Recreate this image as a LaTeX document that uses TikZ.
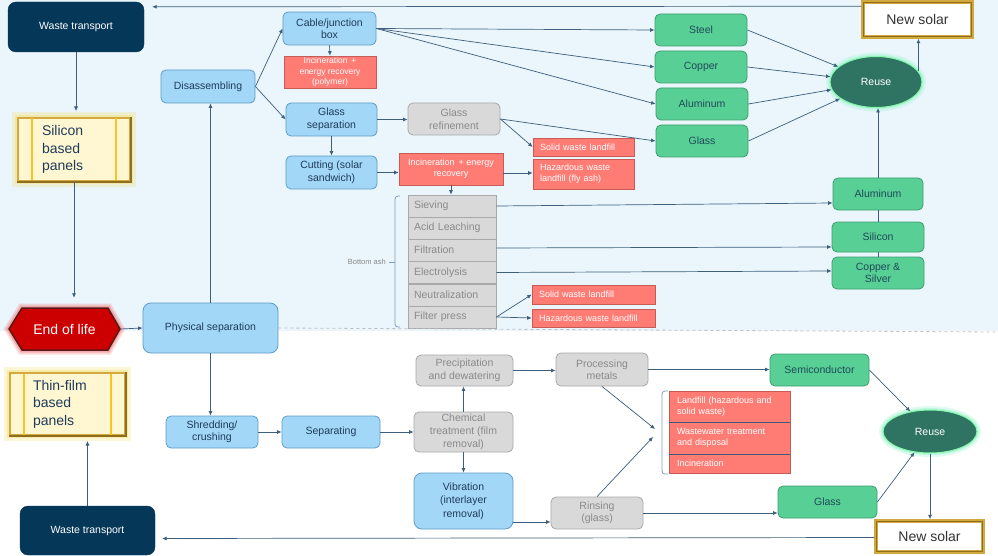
\documentclass[tikz,border=0pt]{standalone}
\usepackage{fontspec}
\setmainfont{Liberation Sans}
\usetikzlibrary{arrows.meta,shapes.geometric,calc}

\definecolor{bgblue}{HTML}{EAF5FC}
\definecolor{navy}{HTML}{053759}
\definecolor{lblue}{HTML}{A3D7F7}
\definecolor{lblueb}{HTML}{5E9DC6}
\definecolor{txtnavy}{HTML}{1F3B5C}
\definecolor{gfill}{HTML}{D9D9D9}
\definecolor{gbord}{HTML}{A9A9A9}
\definecolor{gtext}{HTML}{8A8A8A}
\definecolor{rfill}{HTML}{FF7C75}
\definecolor{rbord}{HTML}{C75B55}
\definecolor{grfill}{HTML}{58CF94}
\definecolor{grbord}{HTML}{3E9E70}
\definecolor{grtext}{HTML}{1F4A5A}
\definecolor{reusef}{HTML}{2F7363}
\definecolor{reuseg}{HTML}{A6F5D5}
\definecolor{conn}{HTML}{3D5E7C}
\definecolor{gold}{HTML}{D1A93F}
\definecolor{golddark}{HTML}{8F6E1F}
\definecolor{pfill}{HTML}{FFF7D1}
\definecolor{pline}{HTML}{F7C523}
\definecolor{pglow}{HTML}{F2E27A}
\definecolor{eolred}{HTML}{CC0000}
\definecolor{eolborder}{HTML}{5A1818}
\definecolor{eolglow}{HTML}{F08080}
\definecolor{brk}{HTML}{7F9FBF}
\definecolor{sepline}{HTML}{3F5A78}

\tikzset{
  sz/.style 2 args={minimum width=#1, minimum height=#2},
  base/.style={inner sep=1pt, align=center, font=\fontsize{10.5}{12.5}\selectfont},
  navybox/.style={base, rounded corners=8pt, fill=navy, draw=navy, text=white},
  bluebox/.style={base, rounded corners=5pt, fill=lblue, draw=lblueb, line width=0.8pt, text=txtnavy},
  graybox/.style={base, rounded corners=5pt, fill=gfill, draw=gbord, line width=0.8pt, text=gtext},
  ashbox/.style={base, fill=gfill, draw=gbord, line width=0.8pt, text=gtext, align=left,
     text width=76pt, inner xsep=6pt, minimum width=88pt, minimum height=22pt},
  redbox/.style={inner sep=1pt, align=center, fill=rfill, draw=rbord, line width=0.6pt, text=white,
     font=\fontsize{9}{11}\selectfont},
  redl/.style={redbox, align=left, inner xsep=7pt, text width=#1},
  greenbox/.style={base, rounded corners=5pt, fill=grfill, draw=grbord, line width=0.8pt, text=grtext},
  reusenode/.style={ellipse, inner sep=0pt, fill=reusef, draw=reuseg!80!green, line width=1pt, text=white,
     font=\fontsize{10.5}{12.5}\selectfont,
     preaction={draw=reuseg, line width=8pt, opacity=0.35},
     preaction={draw=reuseg, line width=4pt, opacity=0.6}},
  panel/.style={fill=pfill, draw=gold, line width=2pt, align=left, text=txtnavy, inner ysep=0pt,
     font=\fontsize{14}{17.5}\selectfont,
     preaction={draw=pglow, line width=12pt, opacity=0.3},
     preaction={draw=pglow, line width=6pt, opacity=0.5}},
  newsolar/.style={fill=white, draw=gold, line width=3.5pt, text=black!80, inner sep=0pt,
     font=\fontsize{14}{16}\selectfont},
  arr/.style={draw=conn, line width=0.7pt, -{Latex[length=4.5pt,width=4pt]}},
  plain/.style={draw=conn, line width=0.7pt},
}

\begin{document}
\begin{tikzpicture}[x=1pt,y=-1pt]
\useasboundingbox (0,0) rectangle (998,556);
\fill[white] (0,0) rectangle (998,556);
\fill[bgblue] (0,0) rectangle (998,331);

% ---------- top half ----------
\node[navybox, sz={136pt}{50pt}] (wt1) at (76,27) {Waste transport};

\node[panel, sz={112pt}{63pt}, text width=64pt, inner xsep=24pt] (sbp) at (74,149.5) {Silicon\\based\\panels};
\draw[pline, line width=1.2pt] ($(sbp.north west)+(15,1.5)$) -- ($(sbp.south west)+(15,-1.5)$);
\draw[pline, line width=1.2pt] ($(sbp.north east)+(-15,1.5)$) -- ($(sbp.south east)+(-15,-1.5)$);
\draw[golddark, line width=1.2pt] (sbp.south west) -- (sbp.south east) -- (sbp.north east);

\draw[fill=eolred, draw=eolborder, line width=1.5pt,
      preaction={draw=eolglow, line width=9pt, opacity=0.3},
      preaction={draw=eolglow, line width=5pt, opacity=0.5}]
  (9,329) -- (22,308) -- (108,308) -- (120,329) -- (108,350) -- (22,350) -- cycle;
\node[font=\fontsize{14}{16}\selectfont, text=white, sz={111pt}{42pt}, inner sep=0pt] (eol) at (64.5,329) {End of life};

\node[bluebox, sz={135pt}{50pt}, rounded corners=8pt] (ps) at (210.5,328) {Physical separation};
\node[bluebox, sz={94pt}{33pt}] (dis) at (208,86.5) {Disassembling};
\node[bluebox, sz={93pt}{33pt}] (cab) at (329.5,28.5) {Cable/junction\\box};
\node[redbox, sz={92pt}{32pt}, font=\fontsize{8.5}{10.5}\selectfont] (incp) at (330,72) {Incineration \,+\\energy recovery\\(polymer)};
\node[bluebox, sz={91pt}{33pt}] (gsep) at (331.5,119.5) {Glass\\separation};
\node[bluebox, sz={91pt}{33pt}] (cut) at (331.5,172.5) {Cutting (solar\\sandwich)};
\node[graybox, sz={92pt}{32pt}] (gref) at (454,119) {Glass\\refinement};
\node[redbox, sz={104pt}{32pt}] (inc) at (451,169) {Incineration \,+ energy\\recovery};
\node[redl=87pt, sz={101pt}{18pt}] (swl1) at (583.5,147) {Solid waste landfill};
\node[redl=87pt, sz={101pt}{30pt}] (hwl1) at (583.5,174) {Hazardous waste\\landfill (fly ash)};

\node[greenbox, sz={92pt}{32pt}] (steel) at (701,30) {Steel};
\node[greenbox, sz={92pt}{32pt}] (copper) at (701,67) {Copper};
\node[greenbox, sz={92pt}{32pt}] (alu1) at (702,104) {Aluminum};
\node[greenbox, sz={92pt}{32pt}] (glass1) at (702,141) {Glass};

\node[reusenode, sz={92pt}{51pt}] (reuse1) at (876,82) {Reuse};
\node[newsolar, sz={109pt}{35pt}] (ns1) at (917.5,19.5) {New solar};
\draw[golddark, line width=0.6pt] ($(ns1.north west)+(2,2)$) rectangle ($(ns1.south east)+(-2,-2)$);

\node[greenbox, sz={90pt}{32pt}] (alu2) at (878,194) {Aluminum};
\node[greenbox, sz={92pt}{30pt}] (si) at (878,237) {Silicon};
\node[greenbox, sz={92pt}{32pt}] (cs) at (878,273) {Copper \&\\Silver};

\node[ashbox] (sieve) at (452,206) {Sieving};
\node[ashbox] (acid) at (452,228) {Acid Leaching};
\node[ashbox] (filt) at (452,250) {Filtration};
\node[ashbox] (elec) at (452,272.5) {Electrolysis};
\node[ashbox] (neut) at (452,295) {Neutralization};
\node[ashbox] (fp) at (452,317) {Filter press};

\draw[brk, line width=0.8pt, rounded corners=3pt] (400,196) -- (395,196) -- (395,327) -- (400,327);
\draw[brk, line width=0.8pt] (395,262) -- (389,262);
\node[anchor=east, inner sep=0pt, text=gtext, font=\fontsize{7.5}{9}\selectfont] (bash) at (386,262) {Bottom ash};

\node[redl=109pt, sz={123pt}{19pt}] (swl2) at (593.5,294.5) {Solid waste landfill};
\node[redl=109pt, sz={123pt}{18pt}] (hwl2) at (593.5,318) {Hazardous waste landfill};

% dashed separator
\coordinate (dashend) at (998,332);
\draw[gray!50, dashed, line width=0.8pt] (ps.east) -- (dashend);

% ---------- bottom half ----------
\node[panel, sz={115pt}{62pt}, text width=69pt, inner xsep=23pt] (tfp) at (67.5,404) {Thin-film\\based\\panels};
\draw[pline, line width=1.2pt] ($(tfp.north west)+(15,1.5)$) -- ($(tfp.south west)+(15,-1.5)$);
\draw[pline, line width=1.2pt] ($(tfp.north east)+(-15,1.5)$) -- ($(tfp.south east)+(-15,-1.5)$);
\draw[golddark, line width=1.2pt] (tfp.south west) -- (tfp.south east) -- (tfp.north east);

\node[bluebox, sz={92pt}{32pt}] (shr) at (212,432) {Shredding/\\crushing};
\node[bluebox, sz={98pt}{32pt}] (sep) at (331,432) {Separating};
\node[navybox, sz={135pt}{49pt}] (wt2) at (87.5,530.5) {Waste transport};
\node[graybox, sz={97pt}{31pt}] (prec) at (464.5,370.5) {Precipitation\\and dewatering};
\node[graybox, sz={92pt}{33pt}] (proc) at (602,369.5) {Processing\\metals};
\node[graybox, sz={99pt}{40pt}, font=\fontsize{10.5}{13}\selectfont] (chem) at (463.5,432) {Chemical\\treatment (film\\removal)};
\node[bluebox, sz={99pt}{56pt}, rounded corners=8pt, font=\fontsize{10.5}{13.5}\selectfont] (vib) at (463.5,501) {Vibration\\(interlayer\\removal)};
\node[graybox, sz={92pt}{32pt}] (rins) at (597,513) {Rinsing\\(glass)};

\node[redl=105pt, inner xsep=8pt, sz={121pt}{31pt}] (lf) at (729.5,406.5) {Landfill (hazardous and\\solid waste)};
\node[redl=105pt, inner xsep=8pt, sz={121pt}{32pt}] (ww) at (729.5,438) {Wastewater treatment\\and disposal};
\node[redl=105pt, inner xsep=8pt, sz={121pt}{19pt}] (incb) at (729.5,463.5) {Incineration};
\draw[sepline, line width=1pt] (lf.south west) -- (lf.south east);
\draw[sepline, line width=0.8pt] (ww.south west) -- (ww.south east);
\draw[brk, line width=0.8pt, rounded corners=3pt] (668,391) -- (662,391) -- (662,474) -- (668,474);
\coordinate (brt) at (655,429);
\coordinate (brb) at (653,437);

\node[greenbox, sz={99pt}{32pt}] (semi) at (819.5,370) {Semiconductor};
\node[greenbox, sz={99pt}{32pt}] (glass2) at (827.5,502) {Glass};
\node[reusenode, sz={94pt}{43pt}] (reuse2) at (930,431.5) {Reuse};
\node[newsolar, sz={107pt}{31pt}] (ns2) at (929.5,536.5) {New solar};
\draw[golddark, line width=0.6pt] ($(ns2.north west)+(2,2)$) rectangle ($(ns2.south east)+(-2,-2)$);

% ---------- connectors: top ----------
\draw[arr] ($(ns1.north west)+(0,6)$) -- ($(wt1.north east)+(8,5)$);
\draw[arr, shorten >=6pt] (wt1.south) -- (wt1.south |- sbp.north);
\draw[arr, shorten >=10pt] (sbp.south) -- (sbp.south |- eol.north);
\draw[arr] (eol.east) -- (ps.west);
\draw[arr] (ps.north) -- (ps.north |- dis.south);
\draw[arr] (dis.east) -- (cab.west);
\draw[arr] (dis.east) -- (gsep.west);
\draw[arr] (cab.south) -- (incp.north);
\draw[arr] (cab.east) -- (steel.west);
\draw[arr] (cab.east) -- (copper.west);
\draw[arr] (cab.east) -- (alu1.west);
\draw[arr] (gsep.east) -- (gsep.east -| gref.west);
\draw[arr] (gsep.south) -- (cut.north);
\draw[arr] (gref.east) -- (glass1.west);
\draw[arr] (gref.east) -- (swl1.west);
\draw[arr] (cut.east) -- (cut.east -| inc.west);
\draw[arr] ($(inc.east)+(0,4)$) -- ($(inc.east -| hwl1.west)+(0,4)$);
\draw[arr] (inc.south) -- (inc.south |- sieve.north);
\draw[arr] (steel.east) -- (reuse1);
\draw[arr] (copper.east) -- (reuse1);
\draw[arr] (alu1.east) -- (reuse1);
\draw[arr] (glass1.east) -- (reuse1);
\draw[arr] (reuse1.14) -- (reuse1.14 |- ns1.south);
\draw[arr] (alu2.north) -- (alu2.north |- reuse1.south);
\draw[plain] (si.north) -- (si.north |- alu2.south);
\draw[plain] (cs.north) -- (cs.north |- si.south);
\draw[arr] (sieve.east) -- ($(sieve.east -| alu2.west)+(0,-3)$);
\draw[arr] ($(filt.east)+(0,-2)$) -- ($(filt.east -| si.west)+(0,-3)$);
\draw[arr] (elec.east) -- ($(cs.west)+(0,-2)$);
\draw[arr] (fp.east) -- (swl2.west);
\draw[arr] (fp.east) -- (hwl2.west);

% ---------- connectors: bottom ----------
\draw[arr] (ps.south) -- (ps.south |- shr.north);
\draw[arr] (shr.east) -- (sep.west);
\draw[arr] (sep.east) -- (chem.west);
\draw[arr] (chem.north) -- (chem.north |- prec.south);
\draw[arr] (chem.south) -- (chem.south |- vib.north);
\draw[arr] (prec.east) -- (prec.east -| proc.west);
\draw[arr] (proc.east) -- (proc.east -| semi.west);
\draw[arr] (proc.south) -- (brt);
\draw[arr] (rins.north) -- (brb);
\draw[arr] ($(vib.east)+(0,21)$) -- ($(vib.east -| rins.west)+(0,21)$);
\draw[arr] (rins.east) -- (rins.east -| glass2.west);
\draw[arr] (semi.east) -- (reuse2);
\draw[arr] (glass2.east) -- (reuse2);
\draw[arr] (reuse2.south) -- (reuse2.south |- ns2.north);
\draw[arr] ($(ns2.west)+(0,1)$) -- ($(wt2.east)+(7,8)$);
\draw[arr, shorten >=5pt] (wt2.north) -- (wt2.north |- tfp.south);
\end{tikzpicture}
\end{document}
